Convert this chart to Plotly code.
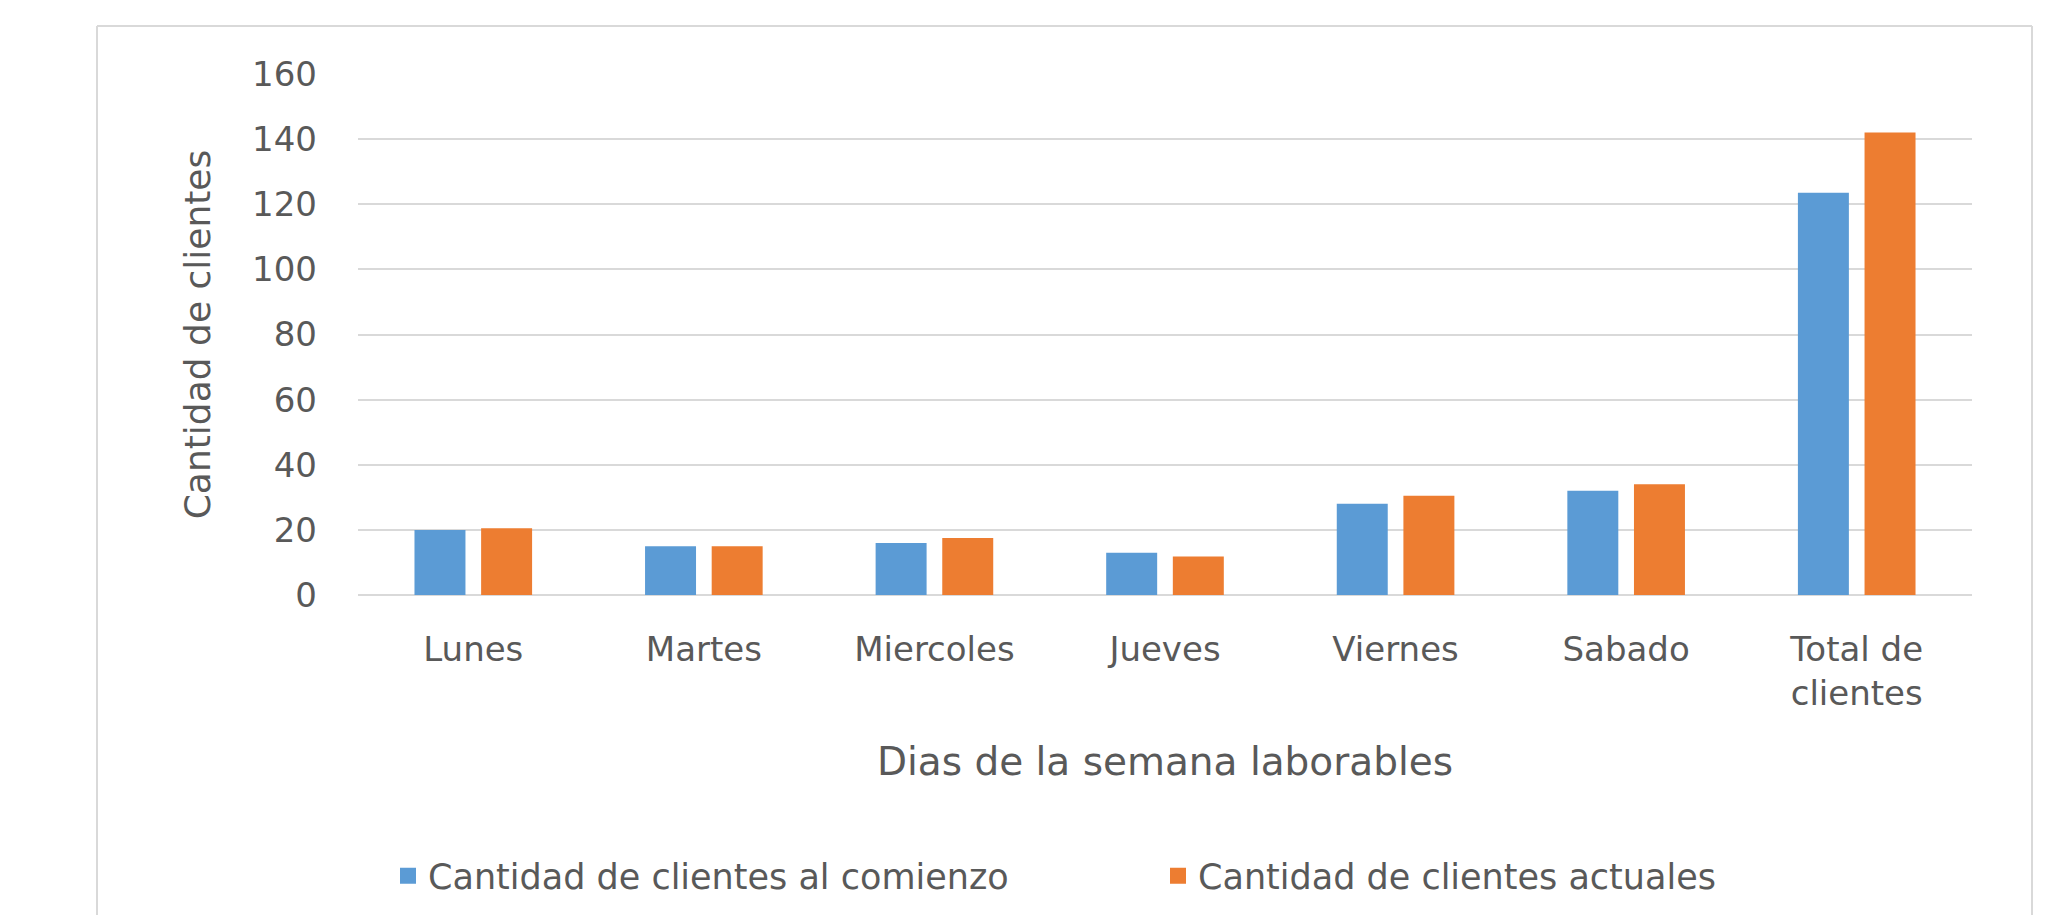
import plotly.graph_objects as go

categorias = ["Lunes", "Martes", "Miercoles", "Jueves", "Viernes", "Sabado", "Total de<br>clientes"]
al_comienzo = [20, 15, 16, 13, 28, 32, 123.5]
actuales = [20.5, 15, 17.5, 11.8, 30.5, 34, 142]
y_ticks = [0, 20, 40, 60, 80, 100, 120, 140, 160]

nombre_1 = "Cantidad de clientes al comienzo"
nombre_2 = "Cantidad de clientes actuales"
azul = "#5B9BD5"
naranja = "#ED7D31"
gris_texto = "#595959"
gris_linea = "#D9D9D9"
fuente = "DejaVu Sans"

fig = go.Figure()
fig.add_trace(go.Bar(x=categorias, y=al_comienzo, name=nombre_1, marker_color=azul,
                     marker_line_width=0, showlegend=False))
fig.add_trace(go.Bar(x=categorias, y=actuales, name=nombre_2, marker_color=naranja,
                     marker_line_width=0, showlegend=False))
# legend entries with larger square swatches
fig.add_trace(go.Scatter(x=[None], y=[None], mode="markers", name=nombre_1,
                         marker=dict(symbol="square", size=24, color=azul)))
fig.add_trace(go.Scatter(x=[None], y=[None], mode="markers", name=nombre_2,
                         marker=dict(symbol="square", size=24, color=naranja)))

W, H = 2046, 915
L, R, T, B = 358, 74, 74, 320
pw, ph = W - L - R, H - T - B

def px(x):
    return (x - L) / pw

def py(y):
    return (H - B - y) / ph

borde = dict(color=gris_linea, width=2)

fig.update_layout(
    width=W, height=H,
    margin=dict(l=L, r=R, t=T, b=B, autoexpand=False),
    paper_bgcolor="white", plot_bgcolor="white",
    barmode="group", bargap=0.422, bargroupgap=0.235,
    font=dict(family=fuente, color=gris_texto, size=34),
    xaxis=dict(
        type="category", showgrid=False, showline=False, zeroline=False, automargin=False,
        tickfont=dict(size=34, color=gris_texto), ticks="",
        ticklabelstandoff=31,
        title=dict(text="Dias de la semana laborables", font=dict(size=39, color=gris_texto), standoff=35),
    ),
    yaxis=dict(
        range=[0, 160], tickvals=y_ticks, showgrid=True, gridcolor=gris_linea, gridwidth=2,
        zeroline=True, zerolinecolor=gris_linea, zerolinewidth=2, showline=False, automargin=False,
        tickfont=dict(size=34, color=gris_texto), ticks="", ticklabelstandoff=40,
        title=dict(text="Cantidad de clientes", font=dict(size=36, color=gris_texto), standoff=30),
    ),
    legend=dict(
        orientation="h", x=px(388), xanchor="left", y=py(876), yanchor="middle",
        font=dict(size=35, color=gris_texto), entrywidth=725, entrywidthmode="pixels",
        bgcolor="rgba(0,0,0,0)",
    ),
    shapes=[
        dict(type="line", xref="paper", yref="paper", x0=px(97), x1=px(97), y0=py(915), y1=py(26), line=borde, layer="below"),
        dict(type="line", xref="paper", yref="paper", x0=px(97), x1=px(2032), y0=py(26), y1=py(26), line=borde, layer="below"),
        dict(type="line", xref="paper", yref="paper", x0=px(2032), x1=px(2032), y0=py(915), y1=py(26), line=borde, layer="below"),
    ],
)

fig.write_html("out.html", config={"displayModeBar": False},
               post_script="document.body.style.margin='0';document.body.style.overflow='hidden';")
